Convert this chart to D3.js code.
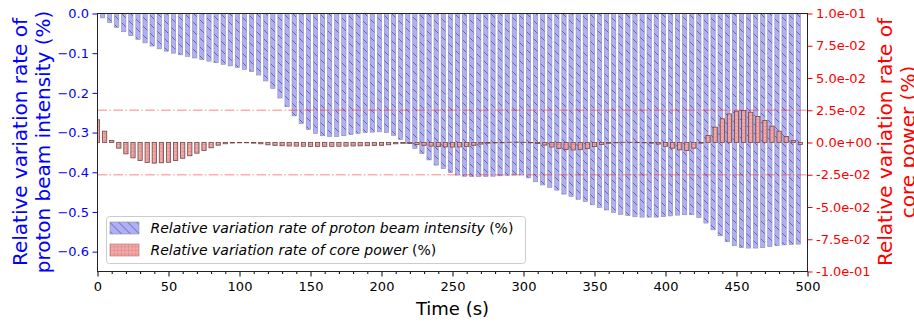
<!DOCTYPE html>
<html>
<head>
<meta charset="utf-8">
<script src="https://cdn.jsdelivr.net/npm/d3@7"></script>
<style>
  body { margin: 0; background: #fff; }
  svg { display: block; font-family: 'DejaVu Sans', sans-serif; }
</style>
</head>
<body>
<svg id="chart" width="914" height="322"></svg>
<script>
// sample times (s), one bar pair every 5 s
const times = d3.range(0, 500, 5);

// relative variation rate of proton beam intensity (%), left axis
const beamRate = [
  0, -0.011, -0.023, -0.035, -0.046, -0.056, -0.065, -0.074, -0.082, -0.089,
  -0.095, -0.100, -0.104, -0.108, -0.112, -0.116, -0.120, -0.124, -0.128, -0.132,
  -0.136, -0.141, -0.146, -0.155, -0.170, -0.189, -0.213, -0.235, -0.258, -0.277,
  -0.292, -0.302, -0.308, -0.310, -0.310, -0.308, -0.305, -0.302, -0.300, -0.299,
  -0.298, -0.300, -0.307, -0.317, -0.328, -0.340, -0.353, -0.369, -0.382, -0.391,
  -0.401, -0.407, -0.410, -0.411, -0.411, -0.411, -0.410, -0.409, -0.408, -0.407,
  -0.407, -0.414, -0.424, -0.432, -0.438, -0.445, -0.455, -0.461, -0.468, -0.474,
  -0.482, -0.489, -0.495, -0.501, -0.506, -0.509, -0.512, -0.513, -0.513, -0.513,
  -0.512, -0.510, -0.508, -0.507, -0.507, -0.514, -0.528, -0.545, -0.560, -0.575,
  -0.585, -0.590, -0.591, -0.591, -0.590, -0.587, -0.585, -0.583, -0.582, -0.581
];

// relative variation rate of core power (%), right axis
const powerRate = [
  0.0176, 0.0088, 0.0016, -0.0044, -0.0088, -0.0119, -0.0140, -0.0155, -0.0160, -0.0157,
  -0.0153, -0.0140, -0.0122, -0.0103, -0.0083, -0.0062, -0.0041, -0.0021, -0.0010, -0.0004,
  -0.0002, -0.0002, -0.0005, -0.0010, -0.0018, -0.0022, -0.0025, -0.0027, -0.0028, -0.0029,
  -0.0030, -0.0030, -0.0030, -0.0030, -0.0029, -0.0028, -0.0027, -0.0026, -0.0025, -0.0024,
  -0.0022, -0.0018, -0.0010, -0.0006, -0.0008, -0.0015, -0.0022, -0.0028, -0.0032, -0.0034,
  -0.0035, -0.0034, -0.0030, -0.0022, -0.0012, -0.0005, -0.0002, 0.0000, 0.0002, 0.0003,
  0.0002, 0.0000, -0.0008, -0.0020, -0.0035, -0.0046, -0.0054, -0.0058, -0.0056, -0.0048,
  -0.0032, -0.0016, -0.0006, 0.0000, 0.0002, 0.0002, 0.0001, -0.0001, -0.0005, -0.0012,
  -0.0029, -0.0044, -0.0057, -0.0062, -0.0044, -0.0005, 0.0054, 0.0119, 0.0184, 0.0222,
  0.0243, 0.0248, 0.0235, 0.0202, 0.0171, 0.0127, 0.0088, 0.0047, 0.0016, -0.0015
];

const xTicks = [0, 50, 100, 150, 200, 250, 300, 350, 400, 450, 500];
const xMinorTicks = d3.range(0, 501, 10).filter(d => d % 50 !== 0);
const beamTicks = [0, -0.1, -0.2, -0.3, -0.4, -0.5, -0.6];
const powerTicks = [0.1, 0.075, 0.05, 0.025, 0, -0.025, -0.05, -0.075, -0.1];
const powerLimits = [0.025, -0.025];

const beamLabel = ['Relative variation rate of', 'proton beam intensity (%)'];
const powerLabel = ['Relative variation rate of', 'core power (%)'];
const legendItems = [
  {text: 'Relative variation rate of proton beam intensity ', fill: 'url(#hatch-beam)'},
  {text: 'Relative variation rate of core power ', fill: 'url(#hatch-power)'}
];

// region size
const plotLeft = 97.5, plotRight = 807.5, plotTop = 13.5, plotBottom = 271.5;
// endregion

const x = d3.scaleLinear().domain([0, 500]).range([plotLeft, plotRight]);
const yBeam = d3.scaleLinear().domain([-0.65, 0]).range([plotBottom, plotTop]);
const yPower = d3.scaleLinear().domain([-0.1, 0.1]).range([plotBottom, plotTop]);

const svg = d3.select('#chart');
const defs = svg.append('defs');

defs.append('clipPath')
  .attr('id', 'plot-clip')
  .append('rect')
  .attr('x', plotLeft).attr('y', plotTop)
  .attr('width', plotRight - plotLeft).attr('height', plotBottom - plotTop);

// '\\' hatch for the beam bars
const hb = defs.append('pattern')
  .attr('id', 'hatch-beam')
  .attr('patternUnits', 'userSpaceOnUse')
  .attr('width', 9).attr('height', 9);
hb.append('rect').attr('width', 9).attr('height', 9).attr('fill', '#afaff5');
hb.append('path')
  .attr('d', 'M0,0L9,9M-1,8L1,10M8,-1L10,1')
  .attr('stroke', '#5252a0').attr('stroke-width', 0.8);

// '+' hatch for the power bars
const hp = defs.append('pattern')
  .attr('id', 'hatch-power')
  .attr('patternUnits', 'userSpaceOnUse')
  .attr('width', 3.6).attr('height', 3.6);
hp.append('rect').attr('width', 3.6).attr('height', 3.6).attr('fill', '#f3a9a9');
hp.append('path')
  .attr('d', 'M0,0V3.6M0,0H3.6')
  .attr('stroke', '#cf6a6a').attr('stroke-width', 0.6);

const plot = svg.append('g').attr('clip-path', 'url(#plot-clip)');

// beam intensity bars sit just left of each sample time
plot.append('g')
  .selectAll('rect')
  .data(times.map((t, i) => ({t, v: beamRate[i]})))
  .join('rect')
  .attr('x', d => x(d.t - 3))
  .attr('width', d => x(d.t) - x(d.t - 3))
  .attr('y', yBeam(0))
  .attr('height', d => yBeam(d.v) - yBeam(0))
  .attr('fill', 'url(#hatch-beam)')
  .attr('stroke', '#8c8cb0')
  .attr('stroke-width', 0.6);

// core power bars centred on the sample time
plot.append('g')
  .selectAll('rect')
  .data(times.map((t, i) => ({t, v: powerRate[i]})))
  .join('rect')
  .attr('x', d => x(d.t - 1.5))
  .attr('width', d => x(d.t + 1.5) - x(d.t - 1.5))
  .attr('y', d => Math.min(yPower(0), yPower(d.v)))
  .attr('height', d => Math.max(Math.abs(yPower(d.v) - yPower(0)), 0.3))
  .attr('fill', 'url(#hatch-power)')
  .attr('stroke', '#6e4646')
  .attr('stroke-width', 0.8);

plot.append('g')
  .selectAll('line')
  .data(powerLimits)
  .join('line')
  .attr('x1', plotLeft).attr('x2', plotRight)
  .attr('y1', d => yPower(d)).attr('y2', d => yPower(d))
  .attr('stroke', '#ff0000')
  .attr('stroke-opacity', 0.32)
  .attr('stroke-width', 1.5)
  .attr('stroke-dasharray', '9.6,2.4,1.5,2.4');

// axes
const fmtExp = v => {
  if (v === 0) return '0.0e+00';
  const [m, e] = v.toExponential(1).split('e');
  return m + 'e' + e[0] + e.slice(1).padStart(2, '0');
};

const xAxis = svg.append('g')
  .attr('transform', `translate(0,${plotBottom})`)
  .call(d3.axisBottom(x).tickValues(xTicks).tickSize(5).tickPadding(5).tickFormat(d3.format('d')));
svg.append('g')
  .attr('transform', `translate(0,${plotBottom})`)
  .call(d3.axisBottom(x).tickValues(xMinorTicks).tickSize(2.5).tickFormat(''));

const yAxisL = svg.append('g')
  .attr('transform', `translate(${plotLeft},0)`)
  .call(d3.axisLeft(yBeam).tickValues(beamTicks).tickSize(5).tickPadding(3.5).tickFormat(d3.format('.1f')));

const yAxisR = svg.append('g')
  .attr('transform', `translate(${plotRight},0)`)
  .call(d3.axisRight(yPower).tickValues(powerTicks).tickSize(5).tickPadding(3.5).tickFormat(fmtExp));

svg.selectAll('.domain').remove();
svg.selectAll('.tick text').attr('font-family', 'DejaVu Sans').attr('font-size', 13);
xAxis.selectAll('.tick line').attr('stroke', '#000');
xAxis.selectAll('.tick text').attr('fill', '#000');
yAxisL.selectAll('.tick line').attr('stroke', '#0000ff');
yAxisL.selectAll('.tick text').attr('fill', '#0000ff');
yAxisR.selectAll('.tick line').attr('stroke', '#ff0000');
yAxisR.selectAll('.tick text').attr('fill', '#ff0000');

// spines
svg.append('rect')
  .attr('x', plotLeft).attr('y', plotTop)
  .attr('width', plotRight - plotLeft).attr('height', plotBottom - plotTop)
  .attr('fill', 'none')
  .attr('stroke', '#222')
  .attr('stroke-width', 1);

// axis titles
svg.append('text')
  .attr('x', (plotLeft + plotRight) / 2).attr('y', 315)
  .attr('text-anchor', 'middle')
  .attr('font-size', 18)
  .text('Time (s)');

svg.append('g')
  .attr('transform', 'translate(0,142)')
  .selectAll('text')
  .data(beamLabel)
  .join('text')
  .attr('transform', (d, i) => `translate(${27 + i * 23},0) rotate(-90)`)
  .attr('text-anchor', 'middle')
  .attr('font-size', 20)
  .attr('fill', '#0000ff')
  .text(d => d);

// the second line runs past the right edge of the figure, as in the original
svg.append('g')
  .attr('transform', 'translate(0,142)')
  .selectAll('text')
  .data(powerLabel)
  .join('text')
  .attr('transform', (d, i) => `translate(${892 + i * 23},0) rotate(-90)`)
  .attr('text-anchor', 'middle')
  .attr('font-size', 20)
  .attr('fill', '#ff0000')
  .text(d => d);

// legend
const legend = svg.append('g').attr('transform', 'translate(106.5,216.5)');
legend.append('rect')
  .attr('width', 419).attr('height', 47)
  .attr('rx', 3)
  .attr('fill', '#fff').attr('fill-opacity', 0.8)
  .attr('stroke', '#cccccc');

const rows = legend.selectAll('g.row')
  .data(legendItems)
  .join('g')
  .attr('class', 'row')
  .attr('transform', (d, i) => `translate(0,${11.5 + i * 22})`);

rows.append('rect')
  .attr('x', 3.5).attr('y', -6)
  .attr('width', 29).attr('height', 12)
  .attr('fill', d => d.fill)
  .attr('stroke', (d, i) => i === 0 ? '#8c8cb0' : '#b07070')
  .attr('stroke-width', 0.6);

const label = rows.append('text')
  .attr('x', 44).attr('y', 5)
  .attr('font-size', 14);
label.append('tspan').attr('font-style', 'italic').text(d => d.text);
label.append('tspan').text('(%)');
</script>
</body>
</html>
